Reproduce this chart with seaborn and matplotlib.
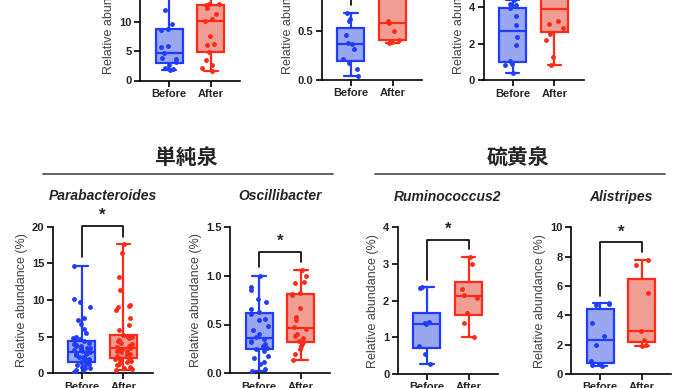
import numpy as np
import pandas as pd
import matplotlib
matplotlib.use("Agg")
import matplotlib.pyplot as plt
from matplotlib.lines import Line2D
from matplotlib.ticker import FormatStrFormatter
import seaborn as sns

np.random.seed(3)

# ---- data ----
groups = ["Before", "After"]

# top row (cut off at the top of the picture)
a_before = [1.8, 1.9, 2.1, 2.6, 3.2, 3.6, 3.9, 4.7, 5.7, 5.9, 8.6, 8.8, 9.7, 12.0, 15.5]
a_after = [1.7, 2.2, 2.6, 3.5, 4.9, 6.0, 6.3, 7.6, 10.1, 10.4, 11.3, 12.4, 12.9, 13.0, 13.1, 14.5, 16.8]
b_before = [0.04, 0.11, 0.17, 0.21, 0.32, 0.37, 0.38, 0.46, 0.60, 0.62, 0.68]
b_after = [0.38, 0.39, 0.41, 0.50, 0.58, 0.60, 0.90, 0.98, 1.10]
c_before = [0.38, 0.85, 0.9, 1.03, 1.95, 2.35, 3.0, 3.5, 3.92, 4.1, 4.15, 4.4]
c_after = [0.85, 1.25, 2.2, 2.55, 2.85, 3.05, 3.25, 4.55, 4.8, 5.1, 5.4, 5.6, 6.0, 6.6]

# bottom row
para_before = [0.1, 0.2, 0.25, 0.4, 0.5, 0.7, 0.8, 0.9, 1.1, 1.2, 1.3, 1.4, 1.45, 1.5,
               1.7, 1.8, 1.9, 2.0, 2.1, 2.2, 2.3, 2.5, 2.6, 2.7, 2.8, 2.9, 3.0, 3.1,
               3.2, 3.3, 3.4, 3.5, 3.6, 3.7, 3.8, 3.9, 4.0, 4.2, 4.4, 4.6, 4.7, 4.8,
               5.0, 5.5, 6.1, 6.8, 7.3, 7.5, 9.1, 9.8, 10.2, 14.7]
para_after = [0.5, 0.6, 0.8, 0.9, 1.1, 1.3, 1.5, 1.7, 1.8, 1.9, 2.0, 2.1, 2.2, 2.4,
              2.5, 2.6, 2.7, 2.9, 3.0, 3.1, 3.2, 3.3, 3.4, 3.6, 3.7, 3.8, 4.0, 4.2,
              4.4, 4.6, 4.8, 5.0, 5.1, 5.3, 5.9, 6.6, 7.5, 8.6, 9.0, 9.2, 9.3, 11.4,
              13.2, 16.4, 17.7]
osc_before = [0.02, 0.05, 0.10, 0.12, 0.16, 0.18, 0.23, 0.25, 0.26, 0.28, 0.30, 0.32,
              0.33, 0.35, 0.37, 0.40, 0.44, 0.48, 0.55, 0.56, 0.61, 0.63, 0.66, 0.73,
              0.76, 0.85, 0.88, 1.0]
osc_after = [0.14, 0.20, 0.25, 0.28, 0.30, 0.32, 0.33, 0.36, 0.38, 0.40, 0.45, 0.47,
             0.55, 0.58, 0.67, 0.80, 0.81, 0.82, 0.92, 0.93, 1.0, 1.06]
rum_before = [0.28, 0.55, 0.75, 1.35, 1.40, 1.42, 2.35, 2.37]
rum_after = [1.02, 1.40, 1.67, 2.08, 2.15, 2.33, 3.0, 3.2]
ali_before = [0.55, 0.6, 0.7, 0.9, 2.0, 2.6, 3.5, 4.7, 4.8, 4.85]
ali_after = [1.9, 2.0, 2.3, 2.95, 5.5, 7.4, 7.8]

# significance brackets: left leg bottom, top, right leg bottom
brackets = {
    "a": [16.5, 21.0, 19.0],
    "b": [0.77, 1.30, 1.22],
    "c": [4.8, 7.4, 7.0],
    "para": [15.9, 20.1, 18.6],
    "osc": [1.09, 1.24, 1.14],
    "rum": [2.56, 3.65, 3.40],
    "ali": [5.3, 8.98, 8.34],
}

panels = [
    # key, before, after, title, ymax, ystep, fmt, left px, zero-line px
    ("a", a_before, a_after, "", 25, 5, "%d", 140, 80.5),
    ("b", b_before, b_after, "", 1.5, 0.5, "%.1f", 321.7, 80.0),
    ("c", c_before, c_after, "", 8, 2, "%d", 483.5, 80.3),
    ("para", para_before, para_after, "Parabacteroides", 20, 5, "%d", 52.5, 373.4),
    ("osc", osc_before, osc_after, "Oscillibacter", 1.5, 0.5, "%.1f", 230, 373.4),
    ("rum", rum_before, rum_after, "Ruminococcus2", 4, 1, "%d", 397.7, 374),
    ("ali", ali_before, ali_after, "Alistripes", 10, 2, "%d", 571, 374),
]

edge_colors = {"Before": "#1f3cff", "After": "#ff2a17"}
fill_colors = {"Before": "#8a9cff", "After": "#ff9284"}

sns.set_style("ticks")
plt.rcParams["font.family"] = ["Liberation Sans", "Noto Sans CJK JP", "DejaVu Sans"]

W, H = 690, 388
fig = plt.figure(figsize=(6.9, 3.88), dpi=100)

ax_h = 146.7
ax_w = 100

for key, before, after, title, ymax, ystep, fmt, left, zero in panels:
    ax = fig.add_axes([left / W, (H - zero) / H, ax_w / W, ax_h / H])
    df = pd.DataFrame({
        "group": ["Before"] * len(before) + ["After"] * len(after),
        "value": before + after,
    })
    for g in groups:
        sub = df[df["group"] == g]
        sns.boxplot(data=sub, x="group", y="value", order=groups, ax=ax,
                    width=0.65, whis=(0, 100), fliersize=0,
                    color=fill_colors[g], linecolor=edge_colors[g], linewidth=1.6)
        sns.stripplot(data=sub, x="group", y="value", order=groups, ax=ax,
                      color=edge_colors[g], size=3.5, jitter=0.22, zorder=3)
    lb, top, rb = brackets[key]
    ax.plot([0, 0, 1, 1], [lb, top, top, rb], color="black", lw=1.2,
            clip_on=False, zorder=4)
    ax.text(0.5, top + ymax * 0.02, "*", ha="center", va="bottom",
            fontsize=12, fontweight="bold", clip_on=False)
    ax.set_xlim(-0.7, 1.7)
    ax.set_ylim(0, ymax)
    ax.set_yticks(np.arange(0, ymax + ystep / 2, ystep))
    ax.yaxis.set_major_formatter(FormatStrFormatter(fmt))
    ax.set_xlabel("")
    ax.set_ylabel("Relative abundance (%)", fontsize=9, color="#444444", labelpad=3)
    ax.tick_params(axis="both", length=4, width=1.2, color="black",
                   labelsize=8, pad=2)
    for lab in ax.get_xticklabels() + ax.get_yticklabels():
        lab.set_fontweight("bold")
    for s in ["top", "right"]:
        ax.spines[s].set_visible(False)
    for s in ["left", "bottom"]:
        ax.spines[s].set_linewidth(1.2)
        ax.spines[s].set_color("black")
    if title:
        ax.set_title(title, fontsize=10, fontweight="bold", style="italic", pad=19)

# group headers
for label, cx, x0, x1 in [("単純泉", 186.7, 43, 333), ("硫黄泉", 518, 375, 665)]:
    fig.text(cx / W, (H - 158) / H, label, ha="center", va="center",
             fontsize=15, fontweight="bold", family=["Noto Sans CJK JP"])
    fig.add_artist(Line2D([x0 / W, x1 / W], [(H - 174) / H] * 2,
                          color="#555555", lw=1.3))

fig.savefig("out.png", dpi=100)
